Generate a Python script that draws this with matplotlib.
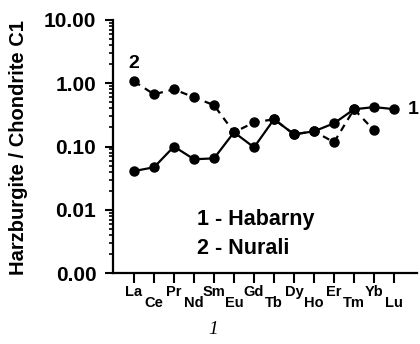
import matplotlib.pyplot as plt
from matplotlib.ticker import FixedLocator, FixedFormatter, LogLocator, NullFormatter

plt.rcParams['font.family'] = ['Liberation Sans', 'DejaVu Sans']

elements = ['La', 'Ce', 'Pr', 'Nd', 'Sm', 'Eu', 'Gd', 'Tb', 'Dy', 'Ho', 'Er', 'Tm', 'Yb', 'Lu']
habarny = [0.041, 0.047, 0.10, 0.063, 0.065, 0.168, 0.097, 0.27, 0.156, 0.174, 0.233, 0.388, 0.42, 0.39]
nurali = [1.07, 0.67, 0.80, 0.60, 0.45, 0.168, 0.24, 0.27, 0.156, 0.174, 0.117, 0.388, 0.18, None]
ytick_vals = [0.001, 0.01, 0.1, 1, 10]
ytick_labels = ['0.00', '0.01', '0.10', '1.00', '10.00']

fig = plt.figure(figsize=(4.2, 3.44), dpi=100)
ax = fig.add_axes([0.269, 0.206, 0.724, 0.736])

x = list(range(len(elements)))
nx = [i for i, v in zip(x, nurali) if v is not None]
ny = [v for v in nurali if v is not None]

ax.plot(nx, ny, color='black', lw=1.6, ls=(0, (3.2, 2.6)), marker='o', ms=6.5)
ax.plot(x, habarny, color='black', lw=1.6, marker='o', ms=6.5)

ax.set_yscale('log')
ax.set_ylim(0.001, 10)
ax.set_xlim(-1.05, 14.15)

ax.yaxis.set_major_locator(FixedLocator(ytick_vals))
ax.yaxis.set_major_formatter(FixedFormatter(ytick_labels))
ax.yaxis.set_minor_locator(LogLocator(base=10, subs=range(2, 10), numticks=30))
ax.yaxis.set_minor_formatter(NullFormatter())

ax.set_xticks(x)
ax.set_xticklabels(elements, fontsize=10.5, fontweight='bold')
for i, tick in enumerate(ax.xaxis.get_major_ticks()):
    tick.set_pad(1.5 if i % 2 == 0 else 9.5)

ax.spines['top'].set_visible(False)
ax.spines['right'].set_visible(False)
ax.spines['left'].set_linewidth(1.6)
ax.spines['bottom'].set_linewidth(1.6)
ax.tick_params(axis='x', length=7, width=1.5, direction='out')
ax.tick_params(axis='y', which='major', length=6, width=1.5, labelsize=15, pad=6)
ax.tick_params(axis='y', which='minor', length=3, width=1.2)
for lbl in ax.get_yticklabels():
    lbl.set_fontweight('bold')

ax.set_ylabel('Harzburgite / Chondrite C1', fontsize=14.5, fontweight='bold')
ax.yaxis.set_label_coords(-(113 - 28) / 304, (273 - 148) / 253)

# series labels next to the lines
ax.annotate('2', (0, nurali[0]), xytext=(0, 7), textcoords='offset points',
            ha='center', va='bottom', fontsize=14, fontweight='bold')
ax.annotate('1', (13, habarny[13]), xytext=(10, 0), textcoords='offset points',
            ha='left', va='center', fontsize=14, fontweight='bold')

fig.text(197 / 420, 1 - 220 / 344, '1 - Habarny', ha='left', va='center', fontsize=15.5, fontweight='bold')
fig.text(197 / 420, 1 - 248 / 344, '2 - Nurali', ha='left', va='center', fontsize=15.5, fontweight='bold')

fig.text(213 / 420, 1 - 330 / 344, '1', ha='center', va='center', fontsize=14,
         family='Liberation Serif', style='italic')

fig.savefig('out.png', dpi=100)
